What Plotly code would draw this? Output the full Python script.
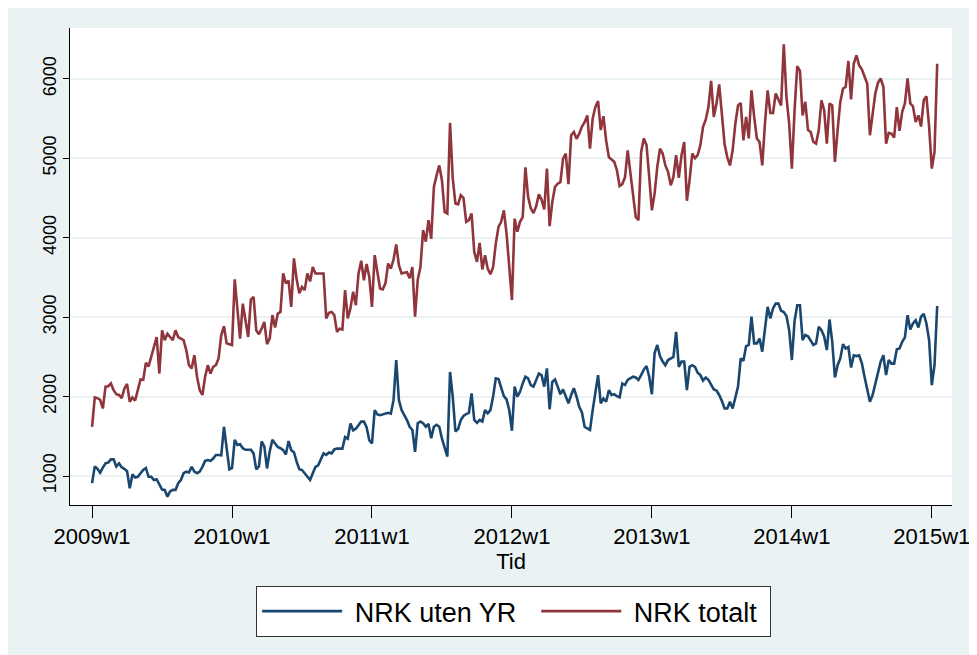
import plotly.graph_objects as go

# Weekly series, 2009w1 .. 2015w3 (index 0 = 2009w1, 52 weeks per year)
nrk_totalt = [
    1620, 1990, 1980, 1960, 1850, 2125, 2130, 2165, 2080, 2030,
    2020, 1980, 2100, 2160, 1935, 1990, 1950, 2080, 2215, 2210,
    2425, 2380, 2510, 2625, 2750, 2290, 2835, 2710, 2790, 2750,
    2710, 2835, 2750, 2730, 2710, 2585, 2395, 2355, 2520, 2250,
    2080, 2020, 2250, 2395, 2290, 2375, 2395, 2480, 2775, 2885,
    2670, 2660,
    2650, 3475, 3045, 2730, 3170, 2960, 2750, 3220, 3255, 2835,
    2785, 2855, 2940, 2660, 2730, 3025, 2870, 3045, 3065, 3550,
    3425, 3460, 3130, 3740, 3480, 3300, 3380, 3340,
    3550, 3450, 3630, 3550, 3550, 3550, 3550, 2985, 3055, 3065,
    3025, 2815, 2855, 2845, 3340, 2985, 3110, 3320, 3150, 3550,
    3710, 3465, 3670, 3505, 3130,
    3780, 3540, 3360, 3350, 3425, 3675, 3610, 3725, 3915, 3655,
    3550, 3560, 3565, 3490, 3630, 3005, 3470, 3630, 4095, 3950,
    4220, 3985, 4640, 4785, 4910, 4720, 4325,
    4305, 5445, 4750, 4430, 4420, 4535, 4500, 4200,
    4220, 4305, 3820, 3695, 3935, 3600, 3780, 3610, 3540, 3630,
    3925, 4135, 4200, 4345, 4050, 3600, 3215, 4240,
    4075, 4200, 4260, 4885, 4515, 4370, 4310, 4395, 4545, 4480,
    4355, 4870, 4145, 4450, 4640, 4680, 4700, 4995, 5060, 4675,
    5290, 5330, 5245, 5310, 5400, 5455,
    5540, 5120, 5500, 5645, 5720, 5355, 5530, 5225,
    5015, 4985, 4955, 4850, 4650, 4675, 4760, 5100, 4810, 4470,
    4260, 4220, 5080, 5250, 5165, 4765, 4345, 4555,
    4890, 5120, 5060, 4910, 4830, 4660, 4765, 5040, 4755, 5040,
    5205, 4465, 4725, 5060, 5000, 5040, 5165, 5395, 5485, 5645,
    5975, 5520, 5690, 5930, 5600, 5180,
    5015, 4910, 5100, 5435, 5665, 5695, 5225, 5520, 5250, 5855,
    5520, 5250, 5205, 4910, 5435, 5855, 5570, 5570, 5815, 5750,
    5665, 6435, 5770, 5435, 4870, 5600,
    6160, 6100, 5540, 5710, 5355, 5330, 5205, 5185, 5355, 5730,
    5605, 5185, 5690, 5665, 4955, 5355, 5710, 5875, 5900, 6225,
    5740, 6190, 6295, 6170, 6120, 6030,
    5940, 5290, 5560, 5815, 5950, 6005, 5900, 5185, 5320, 5310,
    5260, 5645, 5345, 5585, 5690, 6005, 5690, 5655, 5455, 5540,
    5400, 5730, 5780, 5395, 4870, 5080, 6190,
]

nrk_uten_yr = [
    910, 1120, 1090, 1040, 1105, 1160, 1170, 1210, 1210, 1120,
    1160, 1110, 1090, 1060, 845, 1020, 980, 990, 1035, 1075,
    1100, 990, 990, 950, 960, 885, 830,
    825, 740, 805, 825, 825, 910, 950, 1035, 1055, 1045,
    1115, 1055, 1035, 1055, 1115, 1190, 1200, 1190, 1220, 1265,
    1265, 1260, 1620, 1325, 1085,
    1100, 1455, 1390, 1400, 1350, 1330, 1330, 1330, 1285, 1085,
    1120, 1435, 1370, 1095, 1310, 1455, 1410, 1365, 1350, 1325,
    1270, 1440, 1325, 1300, 1180, 1085, 1075, 1035,
    990, 950, 1035, 1115, 1135, 1200, 1285, 1265, 1295, 1285,
    1335, 1345, 1345, 1345, 1490, 1470, 1660, 1575, 1595, 1640,
    1685, 1685, 1615, 1450, 1410,
    1830, 1775, 1765, 1775, 1785, 1795, 1785, 1955, 2460, 1955,
    1830, 1775, 1705, 1620, 1580, 1305, 1665, 1685, 1665, 1620,
    1655, 1475, 1620, 1645, 1620, 1470, 1370,
    1245, 2310, 2000, 1560, 1590, 1705, 1755, 1780,
    1795, 2040, 1705, 1670, 1705, 1685, 1830, 1790, 1830, 2000,
    2230, 2220, 2125, 2005, 1965, 1830, 1570, 2125,
    2000, 2060, 2165, 2250, 2230, 2145, 2125, 2200, 2290, 2270,
    2125, 2355, 1840, 2185, 2215, 2125, 2030, 2090, 2000, 1915,
    2020, 2105, 2000, 1870,
    1800, 1620, 1600, 1580, 1830, 2080, 2270, 1915, 1975, 1935,
    2080, 2020, 2030, 2005, 1990, 2165, 2145, 2210, 2230, 2250,
    2240, 2210, 2270, 2340, 2385, 2250, 2030, 2545,
    2650, 2510, 2440, 2395, 2460, 2480, 2500, 2815, 2375, 2440,
    2440, 2080, 2375, 2395, 2375, 2300, 2270, 2200, 2240, 2210,
    2145, 2090, 2075, 2020, 1945, 1850,
    1850, 1935, 1850, 2000, 2125, 2480, 2450, 2635, 2650, 3005,
    2670, 2670, 2730, 2565, 2880, 3130, 2985, 3110, 3170, 3170,
    3080, 3065, 3015, 2835, 2460, 2950,
    3150, 3150, 2710, 2775, 2760, 2710, 2650, 2670, 2880, 2835,
    2755, 2585, 2970, 2690, 2240, 2395, 2480, 2660, 2605, 2625,
    2365, 2520, 2510, 2520, 2420, 2250,
    2080, 1935, 2020, 2165, 2325, 2440, 2520, 2270, 2460, 2415,
    2415, 2595, 2605, 2690, 2745, 3025, 2845, 2920, 2960, 2870,
    3005, 3040, 2920, 2710, 2145, 2395, 3140,
]

week_index = list(range(len(nrk_totalt)))
x_tick_vals = [0, 52, 104, 156, 208, 260, 312]
x_tick_text = ["2009w1", "2010w1", "2011w1", "2012w1", "2013w1", "2014w1", "2015w1"]
y_tick_vals = [1000, 2000, 3000, 4000, 5000, 6000]
series_names = ["NRK uten YR", "NRK totalt"]

NAVY = "#1a476f"
MAROON = "#90353b"
BG = "#eaf2f3"
FONT = "Liberation Sans, Arial, sans-serif"
NB = "\u00a0"

fig = go.Figure()
fig.add_trace(go.Scatter(x=week_index, y=nrk_uten_yr, mode="lines",
                         name=NB + series_names[0] + NB * 2,
                         line=dict(color=NAVY, width=2.6)))
fig.add_trace(go.Scatter(x=week_index, y=nrk_totalt, mode="lines",
                         name=NB + series_names[1] + NB,
                         line=dict(color=MAROON, width=2.6)))

fig.update_layout(
    width=977, height=655,
    margin=dict(l=62, r=33, t=20, b=158),
    paper_bgcolor=BG, plot_bgcolor="white",
    font=dict(family=FONT, color="black"),
    showlegend=True,
    legend=dict(orientation="h", x=0.503, xanchor="center", y=-0.170, yanchor="top",
                bgcolor="white", bordercolor="#333333", borderwidth=1,
                font=dict(size=27, family=FONT), itemwidth=80, entrywidth=0,
                traceorder="normal"),
    xaxis=dict(range=[-8.2, 319.5], tickvals=x_tick_vals, ticktext=x_tick_text,
               showgrid=False, zeroline=False, showline=True, linecolor="black", linewidth=1,
               ticks="outside", ticklen=12, tickcolor="black", tickfont=dict(size=22),
               title=dict(text="Tid", font=dict(size=22), standoff=0)),
    yaxis=dict(range=[635, 6640], tickvals=y_tick_vals, tickangle=-90,
               showgrid=True, gridcolor=BG, gridwidth=2, zeroline=False,
               showline=True, linecolor="black", linewidth=1,
               ticks="outside", ticklen=6, tickcolor="black", tickfont=dict(size=18)),
)

fig.write_html("out.html")
